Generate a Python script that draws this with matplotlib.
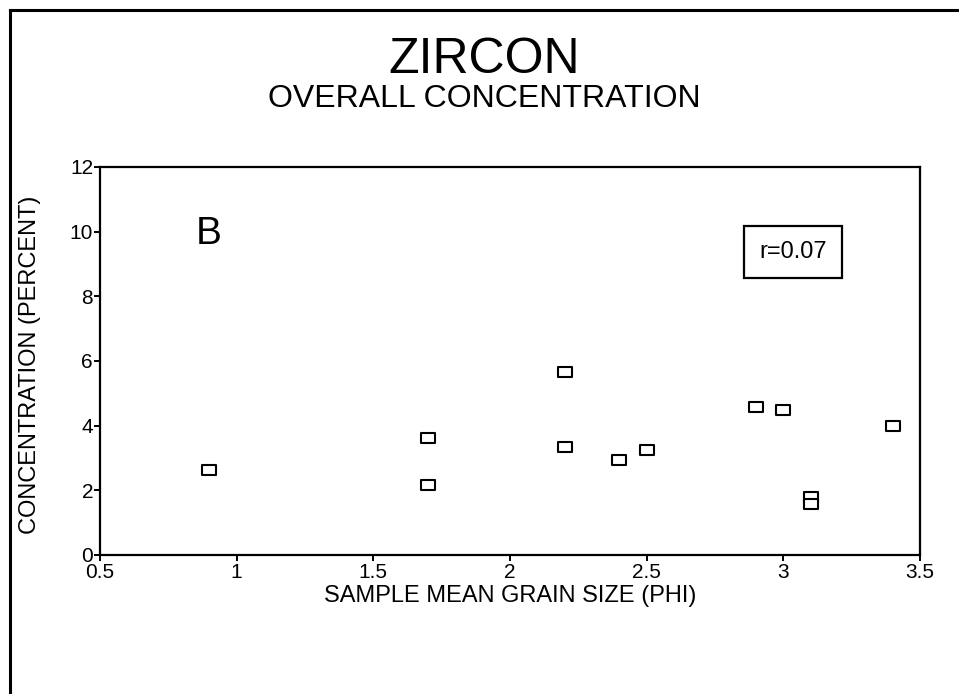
import matplotlib
matplotlib.use("Agg")
import matplotlib.pyplot as plt
from matplotlib.lines import Line2D
from matplotlib.path import Path

plt.rcParams['font.family'] = ['Liberation Sans', 'DejaVu Sans']

# grain size (phi) and zircon concentration (percent)
grain_size = [0.9, 1.7, 1.7, 2.2, 2.2, 2.4, 2.5, 2.9, 3.0, 3.1, 3.1, 3.4]
concentration = [2.63, 3.62, 2.17, 5.66, 3.34, 2.94, 3.25, 4.58, 4.48, 1.8, 1.58, 3.99]

x_ticks = [0.5, 1, 1.5, 2, 2.5, 3, 3.5]
x_tick_labels = ['0.5', '1', '1.5', '2', '2.5', '3', '3.5']
y_ticks = [0, 2, 4, 6, 8, 10, 12]

# wide open rectangle used as marker
rect = Path([(-7, -5), (7, -5), (7, 5), (-7, 5), (-7, -5)],
            [Path.MOVETO, Path.LINETO, Path.LINETO, Path.LINETO, Path.CLOSEPOLY])

fig = plt.figure(figsize=(9.59, 6.94), dpi=100)
ax = fig.add_axes([0.1043, 0.2003, 0.855, 0.5591])

ax.plot(grain_size, concentration, linestyle='none', marker=rect,
        markersize=10.5, markerfacecolor='white', markeredgecolor='black',
        markeredgewidth=1.5)

ax.set_xlim(0.5, 3.5)
ax.set_ylim(0, 12)
ax.set_xticks(x_ticks)
ax.set_xticklabels(x_tick_labels)
ax.set_yticks(y_ticks)
ax.tick_params(direction='out', length=4, width=1.4, labelsize=15)
ax.tick_params(axis='y', pad=1)
ax.tick_params(axis='x', pad=2)
for s in ax.spines.values():
    s.set_linewidth(1.6)

ax.set_xlabel('SAMPLE MEAN GRAIN SIZE (PHI)', fontsize=17, labelpad=2)
fig.text(0.031, 0.475, 'CONCENTRATION (PERCENT)', rotation=90, fontsize=17,
         ha='center', va='center')

ax.text(0.132, 0.827, 'B', transform=ax.transAxes, fontsize=28,
        ha='center', va='center')
ax.text(0.845, 0.781, 'r=0.07', transform=ax.transAxes, fontsize=17,
        ha='center', va='center',
        bbox=dict(boxstyle='square,pad=0.65', facecolor='white',
                  edgecolor='black', linewidth=1.6))

fig.text(0.505, 0.913, 'ZIRCON', fontsize=36, ha='center', va='center')
fig.text(0.505, 0.857, 'OVERALL CONCENTRATION', fontsize=23,
         ha='center', va='center')

# page frame (top and left edges only)
fig.add_artist(Line2D([0.0104, 1.0], [0.9856, 0.9856], color='black',
                      linewidth=2.2, transform=fig.transFigure))
fig.add_artist(Line2D([0.0104, 0.0104], [0.0, 0.9856], color='black',
                      linewidth=2.2, transform=fig.transFigure))

fig.savefig('out.png', dpi=100)
